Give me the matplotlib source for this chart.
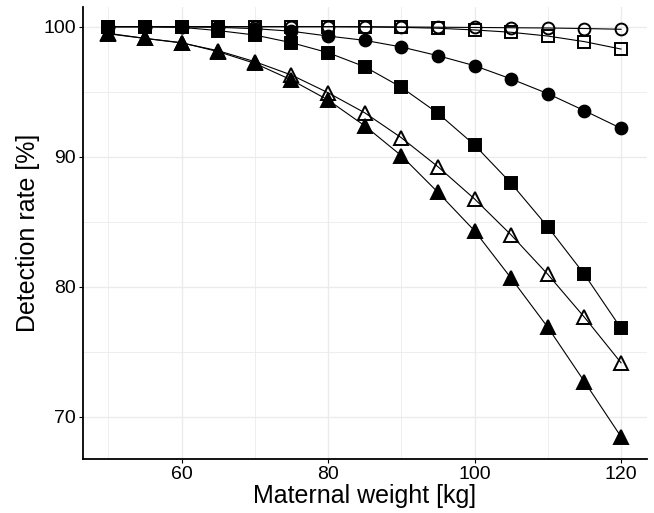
import matplotlib
matplotlib.use("Agg")
import matplotlib.pyplot as plt
from matplotlib.ticker import MultipleLocator

plt.rcParams['font.family'] = ['Liberation Sans', 'DejaVu Sans']

# maternal weight [kg]
weight = [50, 55, 60, 65, 70, 75, 80, 85, 90, 95, 100, 105, 110, 115, 120]

# detection rate [%] per series
open_circle = [100.0, 100.0, 100.0, 100.0, 100.0, 100.0, 100.0, 100.0,
               99.98, 99.96, 99.94, 99.92, 99.9, 99.86, 99.8]
open_square = [100.0, 100.0, 100.0, 100.0, 100.0, 100.0, 100.0, 99.98,
               99.95, 99.88, 99.75, 99.57, 99.28, 98.85, 98.28]
filled_circle = [100.0, 100.0, 100.0, 99.95, 99.85, 99.65, 99.28, 98.95,
                 98.44, 97.77, 97.0, 95.98, 94.85, 93.54, 92.18]
filled_square = [100.0, 100.0, 99.95, 99.7, 99.36, 98.77, 98.0, 96.92,
                 95.34, 93.34, 90.9, 87.95, 84.6, 80.95, 76.8]
open_triangle = [99.45, 99.1, 98.75, 98.15, 97.31, 96.28, 94.92, 93.38,
                 91.46, 89.23, 86.75, 83.98, 80.95, 77.65, 74.15]
filled_triangle = [99.49, 99.1, 98.77, 98.08, 97.18, 95.9, 94.36, 92.38,
                   90.08, 87.26, 84.3, 80.65, 76.88, 72.7, 68.46]

fig = plt.figure(figsize=(6.54, 5.13), dpi=100)
ax = fig.add_axes([0.1265, 0.1058, 0.8623, 0.8812])

line_kw = dict(color='black', lw=0.8, mec='black', mew=1.4)
ax.plot(weight, filled_triangle, marker='^', ms=10.5, mfc='black', **line_kw)
ax.plot(weight, open_triangle, marker='^', ms=10.5, mfc='none', **line_kw)
ax.plot(weight, filled_square, marker='s', ms=8.5, mfc='black', **line_kw)
ax.plot(weight, filled_circle, marker='o', ms=8.5, mfc='black', **line_kw)
ax.plot(weight, open_square, marker='s', ms=8.5, mfc='none', **line_kw)
ax.plot(weight, open_circle, marker='o', ms=8.5, mfc='none', **line_kw)

ax.set_xlim(46.5, 123.5)
ax.set_ylim(66.77, 101.54)
ax.xaxis.set_major_locator(MultipleLocator(20))
ax.xaxis.set_minor_locator(MultipleLocator(10))
ax.yaxis.set_major_locator(MultipleLocator(10))
ax.yaxis.set_minor_locator(MultipleLocator(5))

ax.grid(which='major', color='#ebebeb', lw=1.0)
ax.grid(which='minor', color='#ebebeb', lw=0.6)
ax.set_axisbelow(True)

for side in ['top', 'right']:
    ax.spines[side].set_visible(False)
for side in ['left', 'bottom']:
    ax.spines[side].set_linewidth(1.3)

ax.tick_params(which='major', length=3, width=0.8, labelsize=14, pad=2)
ax.tick_params(which='minor', length=0)

ax.set_xlabel('Maternal weight [kg]', fontsize=18, labelpad=1)
ax.set_ylabel('Detection rate [%]', fontsize=18, labelpad=2)

fig.savefig('out.png', dpi=100)
